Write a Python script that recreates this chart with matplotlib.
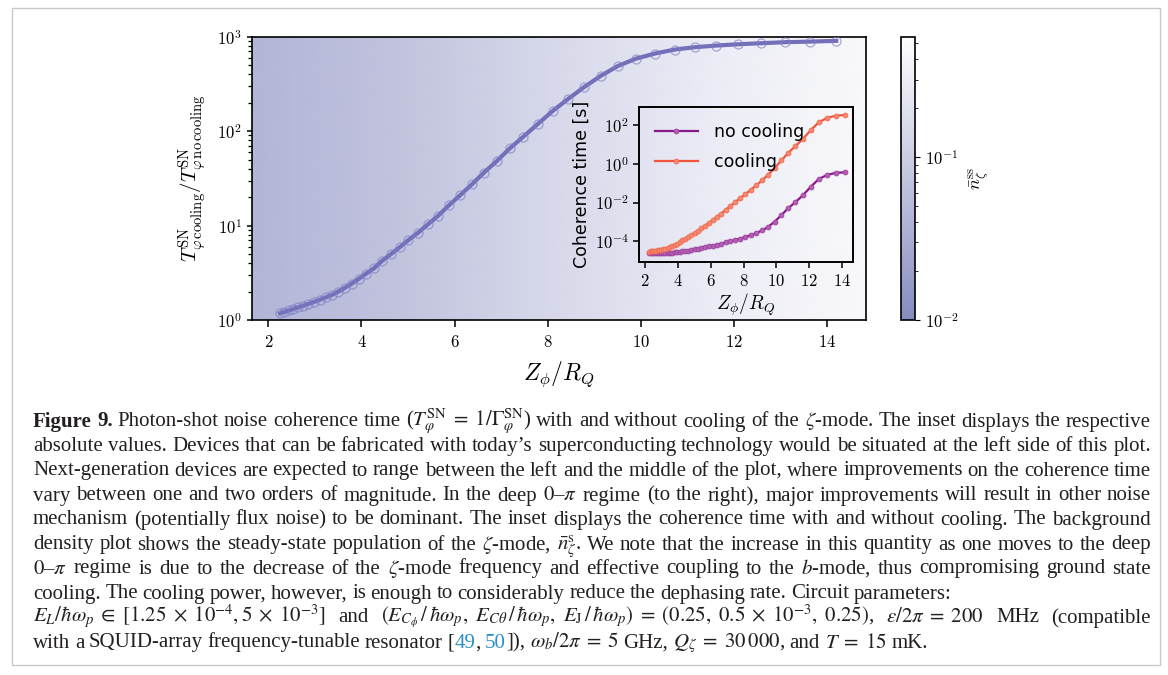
import numpy as np
import matplotlib
matplotlib.use("Agg")
import matplotlib.pyplot as plt
from matplotlib.colors import LogNorm, LinearSegmentedColormap
from matplotlib.patches import Rectangle
from matplotlib.ticker import FixedLocator, NullLocator

plt.rcParams['font.family'] = 'serif'
plt.rcParams['font.serif'] = ['cmr10']
plt.rcParams['mathtext.fontset'] = 'cm'
plt.rcParams['axes.formatter.use_mathtext'] = True

# Z_phi / R_Q sample points (same for main plot and inset)
zeta_phi = [2.25, 2.34, 2.44, 2.54, 2.64, 2.75, 2.86, 2.98, 3.10, 3.23, 3.36, 3.50,
            3.64, 3.79, 3.94, 4.10, 4.27, 4.44, 4.63, 4.82, 5.01, 5.22, 5.43, 5.65,
            5.88, 6.12, 6.37, 6.63, 6.91, 7.19, 7.48, 7.79, 8.11, 8.44, 8.78, 9.14,
            9.51, 9.90, 10.31, 10.73, 11.17, 11.62, 12.10, 12.59, 13.11, 13.64, 14.20]

# log10 of T_cooling / T_no_cooling
log10_ratio = [0.071, 0.086, 0.101, 0.117, 0.134, 0.152, 0.171, 0.192, 0.214, 0.239,
               0.265, 0.300, 0.340, 0.385, 0.435, 0.490, 0.548, 0.625, 0.696, 0.770,
               0.847, 0.925, 1.014, 1.105, 1.215, 1.321, 1.435, 1.560, 1.684, 1.819,
               1.942, 2.076, 2.214, 2.341, 2.465, 2.585, 2.690, 2.768, 2.822, 2.864,
               2.889, 2.906, 2.920, 2.931, 2.942, 2.948, 2.956]

# inset: log10 of coherence time [s]
log10_t_cooling = [-4.53, -4.52, -4.51, -4.50, -4.49, -4.475, -4.46, -4.44, -4.41, -4.38,
                   -4.34, -4.30, -4.25, -4.19, -4.12, -4.05, -3.96, -3.87, -3.78, -3.68,
                   -3.57, -3.45, -3.33, -3.19, -3.05, -2.90, -2.74, -2.57, -2.38, -2.19,
                   -1.99, -1.78, -1.57, -1.35, -1.11, -0.85, -0.56, -0.22, 0.17, 0.57,
                   0.91, 1.28, 1.73, 2.14, 2.37, 2.48, 2.52]
log10_t_nocool = [-4.60, -4.61, -4.61, -4.62, -4.62, -4.63, -4.63, -4.63, -4.62, -4.62,
                  -4.61, -4.60, -4.59, -4.58, -4.56, -4.54, -4.51, -4.50, -4.48, -4.45,
                  -4.42, -4.38, -4.34, -4.30, -4.27, -4.22, -4.18, -4.13, -4.06, -4.01,
                  -3.93, -3.86, -3.78, -3.69, -3.58, -3.44, -3.25, -2.99, -2.65, -2.29,
                  -1.98, -1.63, -1.19, -0.79, -0.57, -0.47, -0.44]

# background: steady-state population of the zeta-mode
bg_z = [1.6, 2.5, 4.0, 6.0, 8.0, 10.0, 12.0, 14.0, 14.9]
bg_n = [0.042, 0.048, 0.060, 0.090, 0.140, 0.210, 0.300, 0.400, 0.440]

W, H = 1168, 675
fig = plt.figure(figsize=(W / 100, H / 100), dpi=100)


def box(l, t, r, b):
    return [l / W, 1 - b / H, (r - l) / W, (b - t) / H]


ax = fig.add_axes(box(251.6, 36.7, 866, 320))
cax = fig.add_axes(box(900.7, 36.7, 915, 320))
axin = fig.add_axes(box(639, 107, 853, 262))

cmap = LinearSegmentedColormap.from_list("bg", ["#878cc0", "#ffffff"])
norm = LogNorm(vmin=1e-2, vmax=0.55)

ratio = 10 ** np.array(log10_ratio)

ax.set_yscale('log')
X, Y = np.meshgrid(bg_z, [1, 1000])
C = np.vstack([bg_n, bg_n])
mesh = ax.pcolormesh(X, Y, C, shading='gouraud', cmap=cmap, norm=norm, zorder=0)
ax.plot(zeta_phi, ratio, color='#7370b9', lw=3, zorder=2)
ax.plot(zeta_phi, ratio, ls='none', marker='o', ms=6.5, mfc='none', mec='#7e7cc6',
        mew=0.9, alpha=0.65, zorder=3)
ax.set_xlim(1.64, 14.84)
ax.set_ylim(1, 1000)
ax.set_xticks([2, 4, 6, 8, 10, 12, 14])
ax.tick_params(labelsize=12, width=1.1)
ax.tick_params(axis='x', length=5, pad=5)
ax.tick_params(which='minor', length=3, width=0.9)
for s in ax.spines.values():
    s.set_linewidth(1.2)
ax.set_xlabel(r'$Z_\phi/R_Q$', fontsize=17, labelpad=7)
ax.set_ylabel(r'$T^{\rm SN}_{\varphi\,{\rm cooling}}/T^{\rm SN}_{\varphi\,{\rm no\,cooling}}$',
              fontsize=15, labelpad=6)

cb = fig.colorbar(mesh, cax=cax)
cb.outline.set_linewidth(1.2)
cb.ax.tick_params(labelsize=12)
cb.set_label(r'$\bar{n}_\zeta^{\rm ss}$', fontsize=13, labelpad=6)

# inset
axin.set_facecolor('none')
axin.set_yscale('log')
axin.plot(zeta_phi, 10 ** np.array(log10_t_nocool), color='#8c168c', lw=1.6,
          marker='o', ms=3.5, mfc='#b060b0', mec='#a040a0', mew=0.6, label='no cooling')
axin.plot(zeta_phi, 10 ** np.array(log10_t_cooling), color='#ef553a', lw=1.6,
          marker='o', ms=3.5, mfc='#f58a70', mec='#f06a50', mew=0.6, label='cooling')
axin.set_xlim(1.62, 14.68)
axin.set_ylim(8.5e-6, 850)
axin.set_xticks([2, 4, 6, 8, 10, 12, 14])
axin.yaxis.set_major_locator(FixedLocator([1e-4, 1e-2, 1e0, 1e2]))
axin.yaxis.set_minor_locator(NullLocator())
axin.tick_params(labelsize=12, width=1.1, length=4)
axin.tick_params(axis='x', pad=4)
for s in axin.spines.values():
    s.set_linewidth(1.4)
axin.set_xlabel(r'$Z_\phi/R_Q$', fontsize=14, labelpad=2)
axin.set_ylabel('Coherence time [s]', family='DejaVu Sans', fontsize=12.5, labelpad=3)
axin.legend(loc='upper left', frameon=False, prop={'family': 'DejaVu Sans', 'size': 12.5},
            handlelength=2.5, handletextpad=0.9, labelspacing=0.7, borderaxespad=0.5,
            numpoints=1)

# frame around figure and caption
fig.add_artist(Rectangle((12 / W, 1 - 665 / H), (1160 - 12) / W, (665 - 8) / H,
                         transform=fig.transFigure, fill=False, ec='#c8c8c8', lw=1))

# caption
cap = dict(family='Liberation Serif', math_fontfamily='stix', fontsize=15.0, color='#231f20')
bold = dict(cap, weight='bold')
blue = dict(cap, color='#2a8fd0')

# (segments, justified)
lines = [
    ([("Figure 9.", bold),
      (r" Photon-shot noise coherence time ($T_\varphi^{\rm SN}\;=\;1/\Gamma_\varphi^{\rm SN}$) "
       r"with and without cooling of the $\zeta$-mode. The inset displays the respective", cap)], True),
    ([("absolute values. Devices that can be fabricated with today\u2019s superconducting "
       "technology would be situated at the left side of this plot.", cap)], True),
    ([("Next-generation devices are expected to range between the left and the middle of the "
       "plot, where improvements on the coherence time", cap)], True),
    ([(r"vary between one and two orders of magnitude. In the deep $0$–$\pi$ regime "
       r"(to the right), major improvements will result in other noise", cap)], True),
    ([("mechanism (potentially flux noise) to be dominant. The inset displays the coherence "
       "time with and without cooling. The background", cap)], True),
    ([(r"density plot shows the steady-state population of the $\zeta$-mode, "
       r"$\bar{n}_\zeta^{\rm s}$. We note that the increase in this quantity as one moves to the deep",
       cap)], True),
    ([(r"$0$–$\pi$ regime is due to the decrease of the $\zeta$-mode frequency and effective "
       r"coupling to the $b$-mode, thus compromising ground state", cap)], True),
    ([("cooling. The cooling power, however, is enough to considerably reduce the dephasing "
       "rate. Circuit parameters:", cap)], False),
    ([(r"$E_L/\hbar\omega_p\;\in\;[1.25\;\times\;10^{-4},5\;\times\;10^{-3}]$ and "
       r"$(E_{C_\phi}\,/\,\hbar\omega_p,\ E_{C\theta}\,/\,\hbar\omega_p,\ E_{\rm J}\,/\,\hbar\omega_p)"
       r"\;=\;(0.25,\ 0.5\;\times\;10^{-3},\ 0.25)$, $\varepsilon/2\pi\;=\;200$ MHz (compatible",
       cap)], True),
    ([("with a SQUID-array frequency-tunable resonator [", cap), ("49", blue), (", ", cap),
      ("50", blue),
      (r"]), $\omega_b/2\pi\;=\;5$ GHz, $Q_\zeta\;=\;30\,000$, and $T\;=\;15$ mK.", cap)], False),
]
baselines = [426.5, 451, 475.5, 500.5, 524.5, 549.5, 573.5, 598.5, 622.5, 647.5]
x_left, x_right, space = 33.0, 1151.0, 4.6


def split_words(text):
    # split on spaces that are not inside $...$
    parts, cur, in_math = [], "", False
    for ch in text:
        if ch == "$":
            in_math = not in_math
        if ch == " " and not in_math:
            parts.append(cur)
            cur = ""
        else:
            cur += ch
    parts.append(cur)
    return parts


renderer = fig.canvas.get_renderer()
for (segs, justify), yb in zip(lines, baselines):
    words, current = [], []
    for text, style in segs:
        for i, p in enumerate(split_words(text)):
            if i > 0 and current:
                words.append(current)
                current = []
            if p:
                current.append((p, style))
    if current:
        words.append(current)

    drawn = []
    for word in words:
        pieces = []
        for p, style in word:
            t = fig.text(0, 1 - yb / H, p, ha='left', va='baseline', **style)
            pieces.append((t, t.get_window_extent(renderer).width))
        drawn.append(pieces)
    widths = [sum(w for _, w in pieces) for pieces in drawn]
    gap = space
    if justify and len(drawn) > 1:
        gap = max((x_right - x_left - sum(widths)) / (len(drawn) - 1), 2.5)
    x = x_left
    for pieces, wsum in zip(drawn, widths):
        xp = x
        for t, w in pieces:
            t.set_x(xp / W)
            xp += w
        x += wsum + gap

fig.savefig("out.png", dpi=100)
